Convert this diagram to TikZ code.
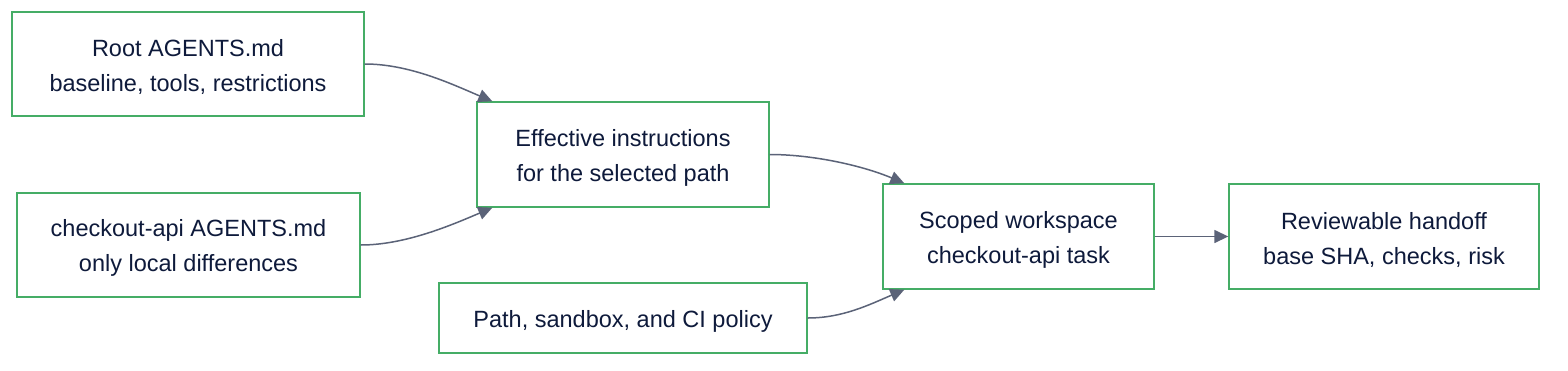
\documentclass[tikz,border=0pt]{standalone}
\usepackage{fontspec}
\setmainfont{Liberation Sans}
\usetikzlibrary{arrows.meta,calc}
\definecolor{boxgreen}{HTML}{45AD66}
\definecolor{edgegray}{HTML}{5B6378}
\definecolor{txt}{HTML}{0E1A3B}
\begin{document}
\begin{tikzpicture}[x=1pt,y=-1pt,
  box/.style={draw=boxgreen,line width=1.4pt,fill=white,text=txt,align=center,
    font=\fontsize{23.5}{35}\selectfont,inner sep=0pt,minimum height=105pt},
  lbl/.style={text=txt,align=center,font=\fontsize{23.5}{35}\selectfont,inner sep=0pt},
  flow/.style={draw=edgegray,line width=1.5pt,-{Triangle[length=14pt,width=13pt]}}]
\useasboundingbox[fill=white] (0,0) rectangle (1568,370);
\node[box,minimum width=352pt,minimum height=104pt] (root) at (188,64) {};
\node[box,minimum width=343pt,minimum height=104pt] (co) at (188.5,245) {};
\node[box,minimum width=292pt] (eff) at (623,154.5) {};
\node[box,minimum width=368pt,minimum height=70pt] (pol) at (623,318) {};
\node[box,minimum width=271pt] (scp) at (1018.5,236.5) {};
\node[box,minimum width=310pt] (rev) at (1384,236.5) {};
\node[lbl] (rootl) at ($(root.center)+(0,3)$) {Root AGENTS.md\\baseline, tools, restrictions};
\node[lbl] (col) at ($(co.center)+(0,3)$) {checkout-api AGENTS.md\\only local differences};
\node[lbl] (effl) at ($(eff.center)+(0,3)$) {Effective instructions\\for the selected path};
\node[lbl] (poll) at ($(pol.center)+(0,3)$) {Path, sandbox, and CI policy};
\node[lbl] (scpl) at ($(scp.center)+(0,3)$) {Scoped workspace\\checkout-api task};
\node[lbl] (revl) at ($(rev.center)+(0,3)$) {Reviewable handoff\\base SHA, checks, risk};
\coordinate (effT) at ($(eff.north west)+(16,0)$);
\coordinate (effB) at ($(eff.south west)+(16,0)$);
\coordinate (scpT) at ($(scp.north west)+(22,0)$);
\coordinate (scpB) at ($(scp.south west)+(22,0)$);
\draw[flow] (root.east) .. controls ++(45,0) and ($(effT)+(-40,-17)$) .. (effT);
\draw[flow] (co.east) .. controls ++(45,0) and ($(effB)+(-40,17)$) .. (effB);
\draw[flow] (eff.east) .. controls ++(45,0) and ($(scpT)+(-40,-17)$) .. (scpT);
\draw[flow] (pol.east) .. controls ++(35,0) and ($(scpB)+(-35,15)$) .. (scpB);
\draw[flow] (scp.east) -- (rev.west);
\end{tikzpicture}
\end{document}
